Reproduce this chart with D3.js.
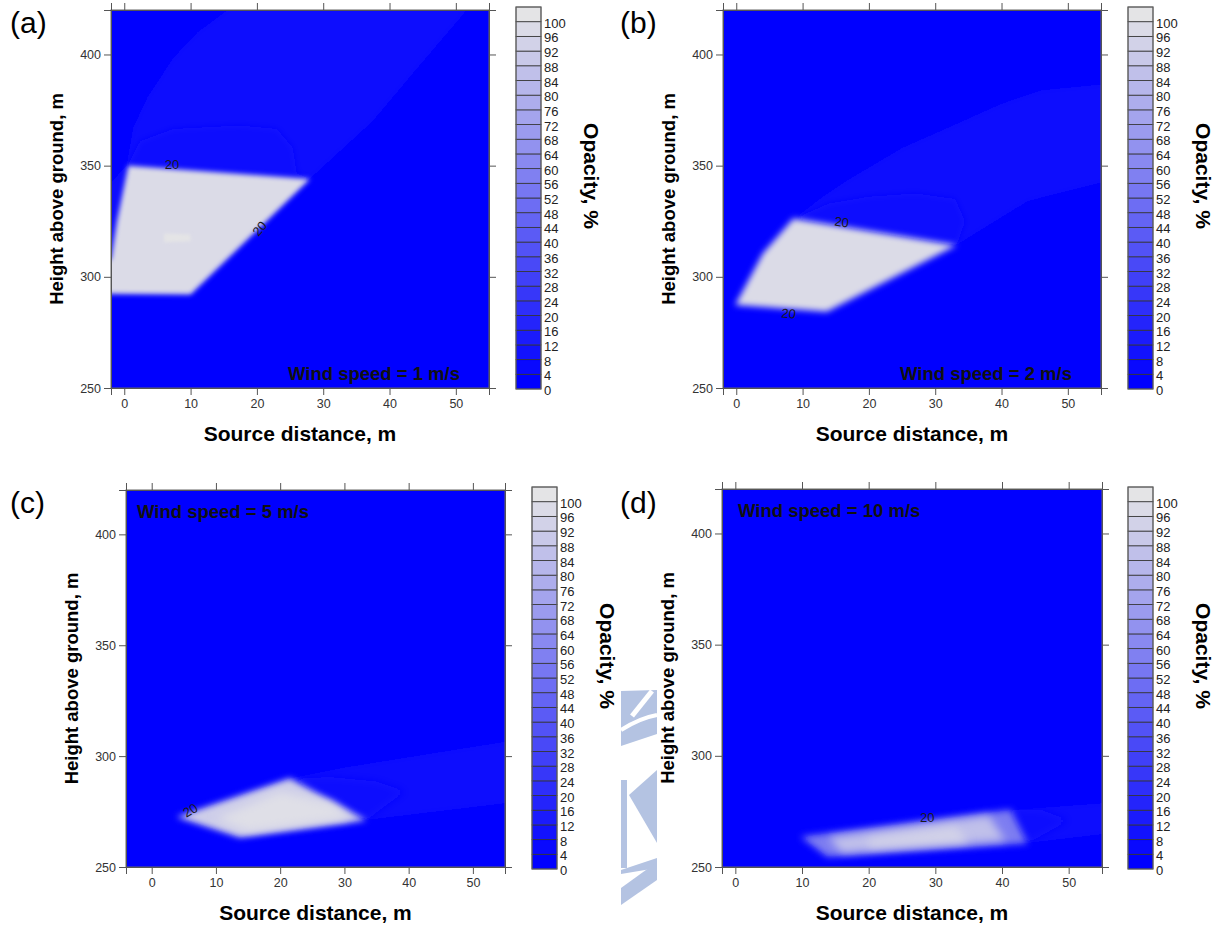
<!DOCTYPE html>
<html>
<head>
<meta charset="utf-8">
<script src="https://cdnjs.cloudflare.com/ajax/libs/d3/7.8.5/d3.min.js"></script>
<style>
    body { margin: 0; background: #fff; }
    svg text { font-family: "Liberation Sans", Arial, sans-serif; }
</style>
</head>
<body>
<div id="viz"></div>
<script>
/*##############################
#       Chart data             #
###############################*/

const windSpeeds = [1, 2, 5, 10];
const panelLetters = ["(a)", "(b)", "(c)", "(d)"];
const xTicks = [0, 10, 20, 30, 40, 50];
const yTicks = [250, 300, 350, 400];
const yDomain = [250, 420];
const opacityLevels = [0, 4, 8, 12, 16, 20, 24, 28, 32, 36, 40, 44, 48, 52,
                       56, 60, 64, 68, 72, 76, 80, 84, 88, 92, 96, 100];

// plume outlines as [source distance m, height m]
const plumeA_wide = [[0.3, 350], [1.3, 367], [3.5, 381], [7.4, 398.6], [11, 410], [16, 421], [52, 421], [44, 393], [37.5, 370], [28, 344], [10, 292], [-6, 292.5], [-6, 330]];
const plumeA_lobe = [[0.5, 350], [2.4, 361], [7.4, 366.5], [17.4, 368], [23, 366.5], [25.4, 358], [26, 346.5], [28, 344], [10, 300]];
const plumeA_core = [[0.6, 350], [28, 344], [10, 292], [-6, 292.5], [-6, 303], [-2, 308], [-1.1, 325]];
const plumeA_spot = [[6, 319.5], [10, 319], [10, 316], [6, 315.5]];

const plumeB_wide = [[8.6, 326], [13, 336], [17, 344], [25, 358], [34, 370], [40, 378], [46, 384], [56, 387], [56, 343], [44, 334], [33.2, 314.2]];
const plumeB_lobe = [[8.6, 326], [14, 333], [20, 336], [27, 337.5], [33, 335], [34.5, 325], [33.2, 314.2]];
const plumeB_core = [[8.6, 326.2], [33.2, 314.2], [13.65, 284.3], [-0.15, 287.3], [4, 310.5]];

const plumeC_wide = [[3.9, 272.6], [21.5, 290], [30, 295], [45, 302], [56, 307], [56, 279], [33.4, 271.1], [13.7, 263.3]];
const plumeC_lobe = [[21.5, 290], [28, 290.5], [35, 288.5], [39.5, 284], [37, 279], [33.4, 271.1]];
const plumeC_core = [[3.9, 272.6], [21.5, 290], [33.4, 271.1], [13.7, 263.3]];
const plumeC_inner = [[10, 272], [20, 284], [28, 279], [31, 272], [15, 266]];

const plumeD_wide = [[9.8, 263.6], [41.3, 275.7], [56, 279], [56, 265], [43.8, 260.7], [13.8, 254.6]];
const plumeD_lobe = [[41, 275.7], [46, 275.5], [50, 271], [47, 266], [43.8, 260.7]];
const plumeD_mid = [[9.8, 263.6], [41.3, 275.7], [43.8, 260.7], [13.8, 254.6]];
const plumeD_core = [[14, 263], [38, 273], [40.5, 262], [16, 256.5]];
const plumeD_inner = [[20, 262.5], [33, 268], [35, 261.5], [20, 259]];

// "20" contour labels: [distance, height, angle]
const labelsA = [[7.2, 350.6, 0], [20.4, 321.7, -50]];
const labelsB = [[15.9, 324.7, 8], [7.9, 283.5, 5]];
const labelsC = [[6.0, 275.6, -30]];
const labelsD = [[28.8, 272.4, 0]];

/*##############################
#       Layout                 #
###############################*/

const panels = [
    { box: {left: 111, top: 10, right: 489, bottom: 388}, xDomain: [-2, 55],
      cbar: {x: 516, y: 7, w: 25, h: 382}, letter: [10, 33], wind: ["end", -29, -8],
      regions: [{pts: plumeA_wide, v: 3.5, blur: 3}, {pts: plumeA_lobe, v: 6, blur: 3},
                {pts: plumeA_core, v: 96, blur: 2.8}, {pts: plumeA_spot, v: 100, blur: 1.5}],
      labels: labelsA },
    { box: {left: 723, top: 10, right: 1101, bottom: 388}, xDomain: [-2, 55],
      cbar: {x: 1128, y: 7, w: 25, h: 382}, letter: [620, 33], wind: ["end", -29, -8],
      regions: [{pts: plumeB_wide, v: 3.5, blur: 3}, {pts: plumeB_lobe, v: 6, blur: 3},
                {pts: plumeB_core, v: 96, blur: 3}],
      labels: labelsB },
    { box: {left: 126, top: 490, right: 505, bottom: 867}, xDomain: [-4, 55],
      cbar: {x: 532, y: 487, w: 25, h: 382}, letter: [10, 513], wind: ["start", 11, 28],
      regions: [{pts: plumeC_wide, v: 3.5, blur: 3}, {pts: plumeC_lobe, v: 6, blur: 4},
                {pts: plumeC_core, v: 90, blur: 3.4}, {pts: plumeC_inner, v: 98, blur: 5}],
      labels: labelsC },
    { box: {left: 722, top: 489, right: 1102, bottom: 867}, xDomain: [-2, 55],
      cbar: {x: 1128, y: 487, w: 25, h: 382}, letter: [620, 513], wind: ["start", 16, 28],
      regions: [{pts: plumeD_wide, v: 3.5, blur: 3}, {pts: plumeD_lobe, v: 6, blur: 4},
                {pts: plumeD_mid, v: 55, blur: 3.5}, {pts: plumeD_core, v: 84, blur: 4},
                {pts: plumeD_inner, v: 92, blur: 4}],
      labels: labelsD }
];

const colorScale = d3.scaleLinear()
    .domain([0, 100])
    .range(["#0000ff", "#e4e4e6"])
    .clamp(true);

/*##############################
#       Draw                   #
###############################*/

const svg = d3.select("#viz").append("svg")
    .attr("width", 1224)
    .attr("height", 926);
const defs = svg.append("defs");

function blurId(sd) {
    const id = "blur" + String(sd).replace(".", "_");
    if (defs.select("#" + id).empty()) {
        defs.append("filter").attr("id", id)
            .attr("x", "-50%").attr("y", "-50%").attr("width", "200%").attr("height", "200%")
            .append("feGaussianBlur").attr("stdDeviation", sd);
    }
    return id;
}

function drawPanel(p, i) {
    const g = svg.append("g");
    const b = p.box;
    const x = d3.scaleLinear().domain(p.xDomain).range([b.left, b.right]);
    const y = d3.scaleLinear().domain(yDomain).range([b.bottom, b.top]);

    defs.append("clipPath").attr("id", "clip" + i)
        .append("rect")
        .attr("x", b.left).attr("y", b.top)
        .attr("width", b.right - b.left).attr("height", b.bottom - b.top);

    // the opacity field
    const field = g.append("g").attr("clip-path", "url(#clip" + i + ")");
    field.append("rect")
        .attr("x", b.left).attr("y", b.top)
        .attr("width", b.right - b.left).attr("height", b.bottom - b.top)
        .attr("fill", colorScale(0));

    const outline = d3.line()
        .x(d => x(d[0]))
        .y(d => y(d[1]))
        .curve(d3.curveLinearClosed);

    p.regions.forEach(function(r) {
        field.append("path")
            .attr("d", outline(r.pts))
            .attr("fill", colorScale(r.v))
            .attr("filter", "url(#" + blurId(r.blur) + ")");
    });

    // contour labels
    g.selectAll(".clab")
        .data(p.labels)
        .enter()
        .append("text")
        .attr("transform", d => "translate(" + x(d[0]) + "," + y(d[1]) + ") rotate(" + d[2] + ")")
        .attr("text-anchor", "middle")
        .attr("dy", "0.35em")
        .attr("font-size", 13)
        .attr("fill", "#1a1a1a")
        .text("20");

    // frame
    g.append("rect")
        .attr("x", b.left).attr("y", b.top)
        .attr("width", b.right - b.left).attr("height", b.bottom - b.top)
        .attr("fill", "none").attr("stroke", "#666").attr("stroke-width", 1);

    // axes
    const left = g.append("g").attr("transform", "translate(" + b.left + ",0)")
        .call(d3.axisLeft(y).tickValues(yTicks).tickSize(7).tickPadding(3));
    const bottom = g.append("g").attr("transform", "translate(0," + b.bottom + ")")
        .call(d3.axisBottom(x).tickValues(xTicks).tickSize(7).tickPadding(4));
    const top = g.append("g").attr("transform", "translate(0," + b.top + ")")
        .call(d3.axisTop(x).tickValues(xTicks).tickSize(7).tickFormat(""));
    const right = g.append("g").attr("transform", "translate(" + b.right + ",0)")
        .call(d3.axisRight(y).tickValues(yTicks).tickSize(7).tickFormat(""));

    [left, bottom, top, right].forEach(function(ax) {
        ax.select(".domain").attr("stroke", "#555");
        ax.selectAll(".tick line").attr("stroke", "#555");
        ax.selectAll("text")
            .attr("font-family", "Liberation Sans, Arial, sans-serif")
            .attr("font-size", 12.5)
            .attr("fill", "#333");
    });

    // axis titles
    g.append("text")
        .attr("transform", "translate(" + (b.left - 54) + "," + ((b.top + b.bottom) / 2) + ") rotate(-90)")
        .attr("text-anchor", "middle")
        .attr("dy", "0.35em")
        .attr("font-size", 18.5)
        .attr("font-weight", "bold")
        .text("Height above ground, m");

    g.append("text")
        .attr("x", (b.left + b.right) / 2)
        .attr("y", b.bottom + 53)
        .attr("text-anchor", "middle")
        .attr("font-size", 21)
        .attr("font-weight", "bold")
        .text("Source distance, m");

    // wind speed note
    const wx = p.wind[0] == "end" ? b.right + p.wind[1] : b.left + p.wind[1];
    const wy = p.wind[0] == "end" ? b.bottom + p.wind[2] : b.top + p.wind[2];
    g.append("text")
        .attr("x", wx).attr("y", wy)
        .attr("text-anchor", p.wind[0])
        .attr("font-size", 18.5)
        .attr("font-weight", "bold")
        .attr("fill", "#111")
        .text("Wind speed = " + windSpeeds[i] + " m/s");

    // panel letter
    g.append("text")
        .attr("x", p.letter[0]).attr("y", p.letter[1])
        .attr("font-family", "Liberation Serif, Times New Roman, serif")
        .attr("font-size", 30)
        .text(panelLetters[i]);

    // colour bar
    const c = p.cbar;
    const cy = d3.scaleLinear().domain([0, 104]).range([c.y + c.h, c.y]);
    g.selectAll(".cbox")
        .data(opacityLevels)
        .enter()
        .append("rect")
        .attr("x", c.x)
        .attr("y", d => cy(d + 4))
        .attr("width", c.w)
        .attr("height", d => cy(d) - cy(d + 4))
        .attr("fill", d => colorScale(d))
        .attr("stroke", "#333")
        .attr("stroke-width", 0.8);
    g.append("rect")
        .attr("x", c.x).attr("y", c.y).attr("width", c.w).attr("height", c.h)
        .attr("fill", "none").attr("stroke", "#666").attr("stroke-width", 1);
    g.selectAll(".clabel")
        .data(opacityLevels)
        .enter()
        .append("text")
        .attr("x", c.x + c.w + 3)
        .attr("y", d => cy(d) + 1.5)
        .attr("dy", "0.35em")
        .attr("font-size", 13)
        .attr("fill", "#222")
        .text(d => d);

    g.append("text")
        .attr("transform", "translate(" + (c.x + c.w + 50) + "," + (c.y + c.h / 2 - 22) + ") rotate(90)")
        .attr("text-anchor", "middle")
        .attr("dy", "0.35em")
        .attr("font-size", 21)
        .attr("font-weight", "bold")
        .text("Opacity, %");
}

panels.forEach(drawPanel);

// faint watermark between the lower panels
const mark = svg.append("g").attr("fill", "#b4c3e2");
mark.append("path").attr("d", "M621,691 L657,690 L657,734 L621,746 Z");
mark.append("path").attr("d", "M632,716 L652,691").attr("stroke", "#fff").attr("stroke-width", 5);
mark.append("path").attr("d", "M621,730 Q640,718 657,715").attr("stroke", "#fff").attr("stroke-width", 4).attr("fill", "none");
mark.append("rect").attr("x", 621).attr("y", 780).attr("width", 6).attr("height", 88);
mark.append("path").attr("d", "M629,795 L657,770 L657,843 Z");
mark.append("path").attr("d", "M621,870 L657,858 L657,868 L621,874 Z");
mark.append("path").attr("d", "M621,888 L657,862 L657,880 L621,905 Z");
</script>
</body>
</html>
